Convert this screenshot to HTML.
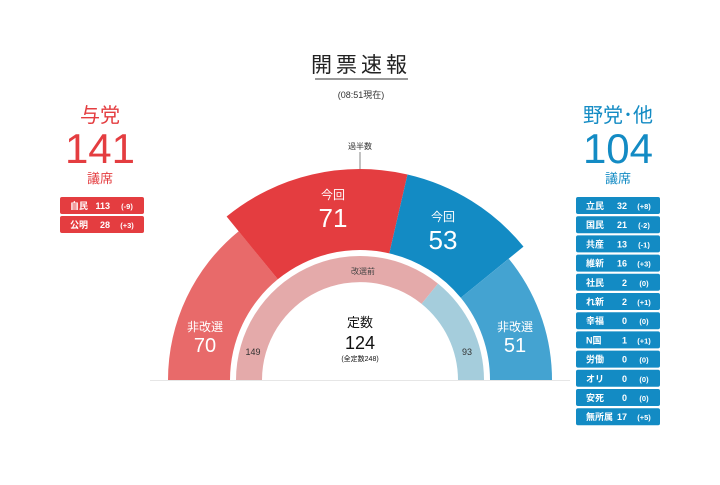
<!DOCTYPE html>
<html><head><meta charset="utf-8"><style>
body{margin:0;background:#fff;width:720px;height:480px;overflow:hidden;font-family:"Liberation Sans","Noto Sans CJK JP",sans-serif}
</style></head><body>
<svg width="720" height="480" xmlns="http://www.w3.org/2000/svg" font-family="Liberation Sans, Noto Sans CJK JP, sans-serif">
<text x="361" y="72" font-size="21" text-anchor="middle" fill="#222" letter-spacing="4">開票速報</text>
<line x1="315" y1="79" x2="408" y2="79" stroke="#333" stroke-width="1"/>
<text x="361" y="98" font-size="9" text-anchor="middle" fill="#333">(08:51現在)</text>

<text x="100" y="122" font-size="20" text-anchor="middle" fill="#e43d40">与党</text>
<text x="100" y="163" font-size="42" text-anchor="middle" fill="#e43d40">141</text>
<text x="100" y="183" font-size="13" text-anchor="middle" fill="#e43d40">議席</text>
<g font-size="9" font-weight="bold" fill="#fff">
<rect x="60" y="197" width="84" height="17" rx="2" fill="#e43d40"/>
<text x="70" y="209">自民</text><text x="110" y="209" text-anchor="end">113</text><text x="127" y="209" font-size="7.5" text-anchor="middle">(-9)</text>
<rect x="60" y="216" width="84" height="17" rx="2" fill="#e43d40"/>
<text x="70" y="228">公明</text><text x="110" y="228" text-anchor="end">28</text><text x="127" y="228" font-size="7.5" text-anchor="middle">(+3)</text>
</g>

<text x="618" y="122" font-size="20" text-anchor="middle" fill="#138bc4">野党･他</text>
<text x="618" y="163" font-size="42" text-anchor="middle" fill="#138bc4">104</text>
<text x="618" y="183" font-size="13" text-anchor="middle" fill="#138bc4">議席</text>
<g font-size="9" font-weight="bold" fill="#fff" id="r"></g>
<g font-size="9" font-weight="bold" fill="#fff">
<rect x="576" y="197" width="84" height="17" rx="2" fill="#138bc4"/><text x="586" y="209">立民</text><text x="627" y="209" text-anchor="end">32</text><text x="644" y="209" font-size="7.5" text-anchor="middle">(+8)</text>
<rect x="576" y="216.2" width="84" height="17" rx="2" fill="#138bc4"/><text x="586" y="228.2">国民</text><text x="627" y="228.2" text-anchor="end">21</text><text x="644" y="228.2" font-size="7.5" text-anchor="middle">(-2)</text>
<rect x="576" y="235.4" width="84" height="17" rx="2" fill="#138bc4"/><text x="586" y="247.4">共産</text><text x="627" y="247.4" text-anchor="end">13</text><text x="644" y="247.4" font-size="7.5" text-anchor="middle">(-1)</text>
<rect x="576" y="254.6" width="84" height="17" rx="2" fill="#138bc4"/><text x="586" y="266.6">維新</text><text x="627" y="266.6" text-anchor="end">16</text><text x="644" y="266.6" font-size="7.5" text-anchor="middle">(+3)</text>
<rect x="576" y="273.8" width="84" height="17" rx="2" fill="#138bc4"/><text x="586" y="285.8">社民</text><text x="627" y="285.8" text-anchor="end">2</text><text x="644" y="285.8" font-size="7.5" text-anchor="middle">(0)</text>
<rect x="576" y="293" width="84" height="17" rx="2" fill="#138bc4"/><text x="586" y="305">れ新</text><text x="627" y="305" text-anchor="end">2</text><text x="644" y="305" font-size="7.5" text-anchor="middle">(+1)</text>
<rect x="576" y="312.2" width="84" height="17" rx="2" fill="#138bc4"/><text x="586" y="324.2">幸福</text><text x="627" y="324.2" text-anchor="end">0</text><text x="644" y="324.2" font-size="7.5" text-anchor="middle">(0)</text>
<rect x="576" y="331.4" width="84" height="17" rx="2" fill="#138bc4"/><text x="586" y="343.4">N国</text><text x="627" y="343.4" text-anchor="end">1</text><text x="644" y="343.4" font-size="7.5" text-anchor="middle">(+1)</text>
<rect x="576" y="350.6" width="84" height="17" rx="2" fill="#138bc4"/><text x="586" y="362.6">労働</text><text x="627" y="362.6" text-anchor="end">0</text><text x="644" y="362.6" font-size="7.5" text-anchor="middle">(0)</text>
<rect x="576" y="369.8" width="84" height="17" rx="2" fill="#138bc4"/><text x="586" y="381.8">オリ</text><text x="627" y="381.8" text-anchor="end">0</text><text x="644" y="381.8" font-size="7.5" text-anchor="middle">(0)</text>
<rect x="576" y="389" width="84" height="17" rx="2" fill="#138bc4"/><text x="586" y="401">安死</text><text x="627" y="401" text-anchor="end">0</text><text x="644" y="401" font-size="7.5" text-anchor="middle">(0)</text>
<rect x="576" y="408.2" width="84" height="17" rx="2" fill="#138bc4"/><text x="586" y="420.2">無所属</text><text x="627" y="420.2" text-anchor="end">17</text><text x="644" y="420.2" font-size="7.5" text-anchor="middle">(+5)</text>
</g>

<line x1="150" y1="380.5" x2="570" y2="380.5" stroke="#e6e6e6"/>
<path d="M168,380 A192,192 0 0 1 238.7,231.2 L277.8,279.3 A130,130 0 0 0 230,380 Z" fill="#e86a6a"/>
<path d="M226.6,216.5 A211,211 0 0 1 407.5,174.5 L389.3,253.4 A130,130 0 0 0 277.8,279.3 Z" fill="#e43d40"/>
<path d="M407.5,174.5 A211,211 0 0 1 523.5,246.6 L460.8,297.8 A130,130 0 0 0 389.3,253.4 Z" fill="#138bc4"/>
<path d="M508.8,258.7 A192,192 0 0 1 551.9,373.3 L552,380 L490,380 A130,130 0 0 0 460.8,297.8 Z" fill="#44a3d1"/>
<path d="M236,380 A124,124 0 0 1 438,283.6 L421.6,303.9 A98,98 0 0 0 262,380 Z" fill="#e4aaaa"/>
<path d="M438,283.6 A124,124 0 0 1 484,380 L458,380 A98,98 0 0 0 421.6,303.9 Z" fill="#a5cddc"/>
<line x1="360" y1="152" x2="360" y2="169" stroke="#999" stroke-width="1.2"/>
<text x="360" y="149" font-size="8" text-anchor="middle" fill="#333">過半数</text>

<g fill="#fff" text-anchor="middle">
<text x="333" y="199" font-size="12">今回</text><text x="333" y="227" font-size="26">71</text>
<text x="443" y="221" font-size="12">今回</text><text x="443" y="249" font-size="26">53</text>
<text x="205" y="331" font-size="12">非改選</text><text x="205" y="352" font-size="20">70</text>
<text x="515" y="331" font-size="12">非改選</text><text x="515" y="352" font-size="20">51</text>
</g>
<text x="363" y="274" font-size="8" text-anchor="middle" fill="#444">改選前</text>
<text x="253" y="355" font-size="9" text-anchor="middle" fill="#333">149</text>
<text x="467" y="355" font-size="9" text-anchor="middle" fill="#333">93</text>
<text x="360" y="327" font-size="13" text-anchor="middle" fill="#111">定数</text>
<text x="360" y="349" font-size="18" text-anchor="middle" fill="#111">124</text>
<text x="360" y="361" font-size="7" text-anchor="middle" fill="#111">(全定数248)</text>
</svg>
</body></html>
